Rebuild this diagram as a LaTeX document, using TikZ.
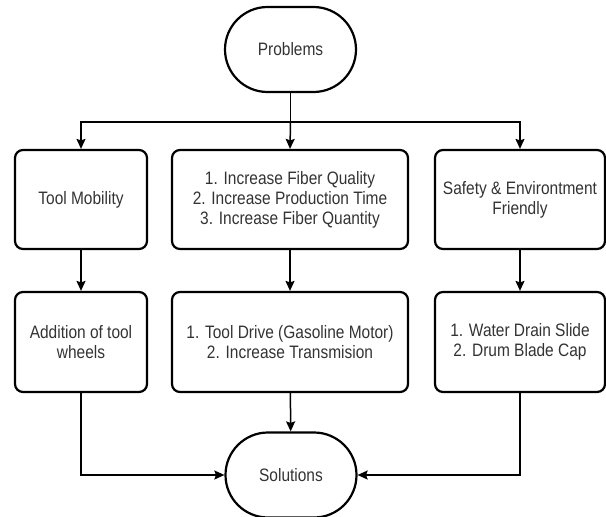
\documentclass[tikz,border=0pt]{standalone}
\usepackage{fontspec}
\setmainfont{Liberation Sans}[FakeStretch=0.86]
\usetikzlibrary{shapes.misc,arrows.meta}
\begin{document}
\begin{tikzpicture}[x=1pt,y=-1pt,
  every node/.style={font=\fontsize{18}{20}\selectfont, text=black!80, align=center, inner sep=0pt},
  term/.style={draw, line width=2.2pt, rounded rectangle, minimum width=131pt, minimum height=85pt},
  box/.style={draw, line width=2.2pt, rounded corners=8pt, rectangle},
  conn/.style={line width=1.5pt},
  arr/.style={conn, -{Stealth[length=10pt,width=9pt,inset=1.5pt]}}
]
\useasboundingbox (0,0) rectangle (606,517);
\node[term] (prob) at (290.5,49.5) {Problems};
\node[box, minimum width=132pt, minimum height=99pt] (l1) at (81,199.5) {Tool Mobility};
\node[box, minimum width=236pt, minimum height=99pt] (m1) at (290,199.5) {1. Increase Fiber Quality\\2. Increase Production Time\\3. Increase Fiber Quantity};
\node[box, minimum width=170pt, minimum height=99pt] (r1) at (520,199.5) {Safety \& Environtment\\Friendly};
\node[box, minimum width=132pt, minimum height=100pt] (l2) at (81,342) {Addition of tool\\wheels};
\node[box, minimum width=236pt, minimum height=100pt] (m2) at (290,342) {1. Tool Drive (Gasoline Motor)\\2. Increase Transmision};
\node[box, minimum width=170pt, minimum height=100pt] (r2) at (520,342) {1. Water Drain Slide\\2. Drum Blade Cap};
\node[term] (sol) at (291,475) {Solutions};
\coordinate (split) at (290.5,122);
\draw[conn] (prob.south) -- (split);
\draw[arr] (split) -| (l1.north);
\draw[arr] (split) -- (m1.north);
\draw[arr] (split) -| (r1.north);
\draw[arr] (l1) -- (l2);
\draw[arr] (m1) -- (m2);
\draw[arr] (r1) -- (r2);
\draw[arr] (m2) -- (sol);
\draw[arr] (l2.south) |- (sol.west);
\draw[arr] (r2.south) |- (sol.east);
\end{tikzpicture}
\end{document}
